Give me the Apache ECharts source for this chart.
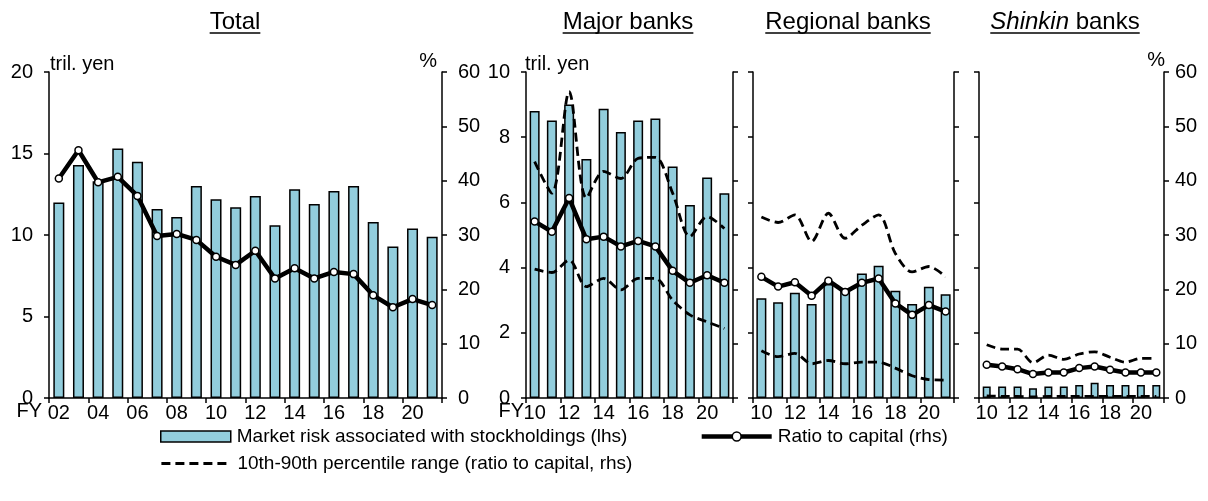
<!DOCTYPE html>
<html>
<head>
<meta charset="utf-8">
<script src="https://cdn.jsdelivr.net/npm/echarts@6/dist/echarts.min.js"></script>
<style>
  html, body { margin: 0; padding: 0; background: #fff; }
  #chart { width: 1208px; height: 501px; }
</style>
</head>
<body>
<div id="chart"></div>
<script>
// Fiscal years
const totalYears = ['02','03','04','05','06','07','08','09','10','11','12','13','14','15','16','17','18','19','20','21'];
const bankYears = ['10','11','12','13','14','15','16','17','18','19','20','21'];

// Market risk associated with stockholdings (tril. yen, lhs)
const totalRisk    = [12.0, 14.3, 13.3, 15.3, 14.5, 11.6, 11.1, 13.0, 12.2, 11.7, 12.4, 10.6, 12.8, 11.9, 12.7, 13.0, 10.8, 9.3, 10.4, 9.9];
const majorRisk    = [8.80, 8.51, 9.0, 7.33, 8.87, 8.16, 8.51, 8.57, 7.10, 5.92, 6.76, 6.28];
const regionalRisk = [3.06, 2.94, 3.23, 2.88, 3.5, 3.3, 3.82, 4.06, 3.29, 2.88, 3.41, 3.18];
const shinkinRisk  = [0.35, 0.35, 0.35, 0.30, 0.35, 0.35, 0.40, 0.47, 0.40, 0.40, 0.40, 0.40];

// Ratio to capital (%, rhs)
const totalRatio    = [40.4, 45.6, 39.7, 40.7, 37.2, 29.8, 30.2, 29.1, 26.0, 24.5, 27.1, 22.0, 23.9, 22.0, 23.2, 22.8, 18.9, 16.7, 18.2, 17.1];
const majorRatio    = [32.5, 30.6, 36.8, 29.2, 29.7, 27.9, 28.9, 27.9, 23.4, 21.2, 22.6, 21.2];
const regionalRatio = [22.3, 20.5, 21.3, 18.8, 21.6, 19.5, 21.2, 22.0, 17.4, 15.3, 17.1, 15.9];
const shinkinRatio  = [6.1, 5.8, 5.3, 4.4, 4.7, 4.7, 5.5, 5.8, 5.2, 4.7, 4.7, 4.7];

// 10th-90th percentile range of the ratio to capital (%, rhs)
const majorP90    = [43.5, 37.7, 56.4, 36.8, 41.7, 40.4, 44.1, 44.3, 37.7, 29.7, 33.4, 31.2];
const majorP10    = [23.7, 23.1, 25.4, 20.5, 22.0, 19.9, 22.0, 22.0, 18.0, 15.3, 14.0, 12.8];
const regionalP90 = [33.3, 32.3, 33.7, 28.8, 34.0, 29.4, 31.8, 33.7, 26.6, 23.2, 24.2, 22.3];
const regionalP10 = [8.7, 7.6, 8.2, 6.3, 6.9, 6.3, 6.6, 6.6, 5.5, 4.1, 3.4, 3.3];
const shinkinP90  = [9.8, 9.0, 9.0, 6.5, 7.9, 7.1, 8.1, 8.5, 7.5, 6.6, 7.3, 7.3];
const shinkinP10  = [0.4, 0.3, 0.3, 0.2, 0.3, 0.3, 0.3, 0.3, 0.3, 0.3, 0.3, 0.3];

// Axis scales
const totalLhs = { min: 0, max: 20, interval: 5 };
const bankLhs  = { min: 0, max: 10, interval: 2 };
const rhs      = { min: 0, max: 60, interval: 10 };

// Panel titles and legend names
const panelTitles = ['Total', 'Major banks', 'Regional banks', 'Shinkin banks'];
const NAME_RISK = 'Market risk associated with stockholdings (lhs)';
const NAME_RATIO = 'Ratio to capital (rhs)';
const NAME_RANGE = '10th-90th percentile range (ratio to capital, rhs)';

const FONT = '"Liberation Sans", Arial, sans-serif';
const BAR_COLOR = '#92CDDC';
const RATIO_WIDTH = 4.5;
const RANGE_WIDTH = 2.8;
const RANGE_DASH = [9, 5];

const panels = [
  { cats: totalYears, risk: totalRisk, ratio: totalRatio, p90: null, p10: null, lhs: totalLhs,
    grid: { left: 49, top: 72, width: 393, height: 326 }, barWidth: 11,
    lhsLabels: true, rhsLabels: true },
  { cats: bankYears, risk: majorRisk, ratio: majorRatio, p90: majorP90, p10: majorP10, lhs: bankLhs,
    grid: { left: 526, top: 72, width: 207, height: 326 }, barWidth: 10,
    lhsLabels: true, rhsLabels: false },
  { cats: bankYears, risk: regionalRisk, ratio: regionalRatio, p90: regionalP90, p10: regionalP10, lhs: bankLhs,
    grid: { left: 753, top: 72, width: 201, height: 326 }, barWidth: 10,
    lhsLabels: false, rhsLabels: false },
  { cats: bankYears, risk: shinkinRisk, ratio: shinkinRatio, p90: shinkinP90, p10: shinkinP10, lhs: bankLhs,
    grid: { left: 979, top: 72, width: 185, height: 326 }, barWidth: 8,
    lhsLabels: false, rhsLabels: true }
];

const axisLine = { show: true, lineStyle: { color: '#000', width: 1.5 } };
const axisTick = { show: true, inside: false, length: 5, lineStyle: { color: '#000', width: 1.5 } };

const grids = [], xAxes = [], yAxes = [], series = [];

panels.forEach((p, i) => {
  grids.push(Object.assign({ containLabel: false }, p.grid));
  xAxes.push({
    type: 'category', gridIndex: i, data: p.cats, boundaryGap: true,
    axisLine: axisLine,
    axisTick: Object.assign({ interval: 1, alignWithLabel: false }, axisTick),
    axisLabel: { interval: 1, color: '#000', fontFamily: FONT, fontSize: 20, margin: 5 },
    splitLine: { show: false }
  });
  yAxes.push({
    type: 'value', gridIndex: i, position: 'left',
    min: p.lhs.min, max: p.lhs.max, interval: p.lhs.interval,
    axisLine: axisLine, axisTick: axisTick, splitLine: { show: false },
    axisLabel: { show: p.lhsLabels, color: '#000', fontFamily: FONT, fontSize: 20, margin: 16 }
  });
  yAxes.push({
    type: 'value', gridIndex: i, position: 'right',
    min: rhs.min, max: rhs.max, interval: rhs.interval,
    axisLine: axisLine, axisTick: axisTick, splitLine: { show: false },
    axisLabel: { show: p.rhsLabels, color: '#000', fontFamily: FONT, fontSize: 20, margin: i === 0 ? 16 : 11 }
  });

  series.push({
    name: NAME_RISK, type: 'bar', xAxisIndex: i, yAxisIndex: 2 * i,
    data: p.risk, barWidth: p.barWidth, z: 2,
    itemStyle: { color: BAR_COLOR, borderColor: '#000', borderWidth: 1.5 }
  });
  if (p.p90) {
    [p.p90, p.p10].forEach(d => {
      series.push({
        name: NAME_RANGE, type: 'line', xAxisIndex: i, yAxisIndex: 2 * i + 1,
        data: d, symbol: 'none', smooth: 0.3, z: 3,
        lineStyle: { color: '#000', width: RANGE_WIDTH, type: RANGE_DASH },
        itemStyle: { color: '#000' }
      });
    });
  }
  series.push({
    name: NAME_RATIO, type: 'line', xAxisIndex: i, yAxisIndex: 2 * i + 1,
    data: p.ratio, symbol: 'circle', symbolSize: 7, z: 4,
    lineStyle: { color: '#000', width: RATIO_WIDTH },
    itemStyle: { color: '#fff', borderColor: '#000', borderWidth: 1.5 }
  });
});

// Text width helper for title underlines
const measureCtx = document.createElement('canvas').getContext('2d');
function textWidth(str, font) { measureCtx.font = font; return measureCtx.measureText(str).width; }

const TITLE_SIZE = 24;
const titleFont = TITLE_SIZE + 'px ' + FONT;
const titleItalic = 'italic ' + TITLE_SIZE + 'px ' + FONT;
const titleCenters = [235, 628, 848, 1065];
const TITLE_Y = 22, UNDERLINE_Y = 33;

const graphics = [];
panelTitles.forEach((t, i) => {
  const cx = titleCenters[i];
  if (t.indexOf('Shinkin') === 0) {
    const a = 'Shinkin', b = t.slice(7);
    const wa = textWidth(a, titleItalic), wb = textWidth(b, titleFont);
    const x0 = cx - (wa + wb) / 2;
    graphics.push({ type: 'text', x: x0, y: TITLE_Y, style: { text: a, font: titleItalic, fill: '#000', align: 'left', verticalAlign: 'middle' } });
    graphics.push({ type: 'text', x: x0 + wa, y: TITLE_Y, style: { text: b, font: titleFont, fill: '#000', align: 'left', verticalAlign: 'middle' } });
    graphics.push({ type: 'line', shape: { x1: x0, y1: UNDERLINE_Y, x2: x0 + wa + wb, y2: UNDERLINE_Y }, style: { stroke: '#000', lineWidth: 1.5 } });
  } else {
    const w = textWidth(t, titleFont);
    graphics.push({ type: 'text', x: cx, y: TITLE_Y, style: { text: t, font: titleFont, fill: '#000', align: 'center', verticalAlign: 'middle' } });
    graphics.push({ type: 'line', shape: { x1: cx - w / 2, y1: UNDERLINE_Y, x2: cx + w / 2, y2: UNDERLINE_Y }, style: { stroke: '#000', lineWidth: 1.5 } });
  }
});

const unitFont = '20px ' + FONT;
const unitLabels = [
  { text: 'tril. yen', x: 50, y: 64, align: 'left' },
  { text: 'tril. yen', x: 525, y: 64, align: 'left' },
  { text: '%', x: 437, y: 61, align: 'right' },
  { text: '%', x: 1165, y: 60, align: 'right' },
  { text: 'FY', x: 42, y: 411, align: 'right' },
  { text: 'FY', x: 524, y: 411, align: 'right' }
];
unitLabels.forEach(u => graphics.push({
  type: 'text', x: u.x, y: u.y,
  style: { text: u.text, font: unitFont, fill: '#000', align: u.align, verticalAlign: 'middle' }
}));

const legendCommon = {
  orient: 'horizontal', padding: 0, itemWidth: 70, itemHeight: 11, itemGap: 72,
  selectedMode: false, textStyle: { color: '#000', fontFamily: FONT, fontSize: 19, padding: [0, 0, 0, 1] }
};

const option = {
  animation: false,
  backgroundColor: '#fff',
  grid: grids,
  xAxis: xAxes,
  yAxis: yAxes,
  legend: [
    Object.assign({ left: 160, top: 427, data: [
      { name: NAME_RISK, icon: 'rect', itemStyle: { color: BAR_COLOR, borderColor: '#000', borderWidth: 1.5 } },
      { name: NAME_RATIO, lineStyle: { color: '#000', width: RATIO_WIDTH },
        itemStyle: { color: '#fff', borderColor: '#000', borderWidth: 1.5 } }
    ] }, legendCommon),
    Object.assign({ left: 160, top: 454, data: [
      { name: NAME_RANGE, lineStyle: { color: '#000', width: RANGE_WIDTH, type: RANGE_DASH },
        itemStyle: { color: 'rgba(0,0,0,0)', borderColor: 'rgba(0,0,0,0)', borderWidth: 0 } }
    ] }, legendCommon)
  ],
  graphic: graphics,
  series: series
};

const chart = echarts.init(document.getElementById('chart'), null, { renderer: 'canvas' });
chart.setOption(option);
</script>
</body>
</html>
